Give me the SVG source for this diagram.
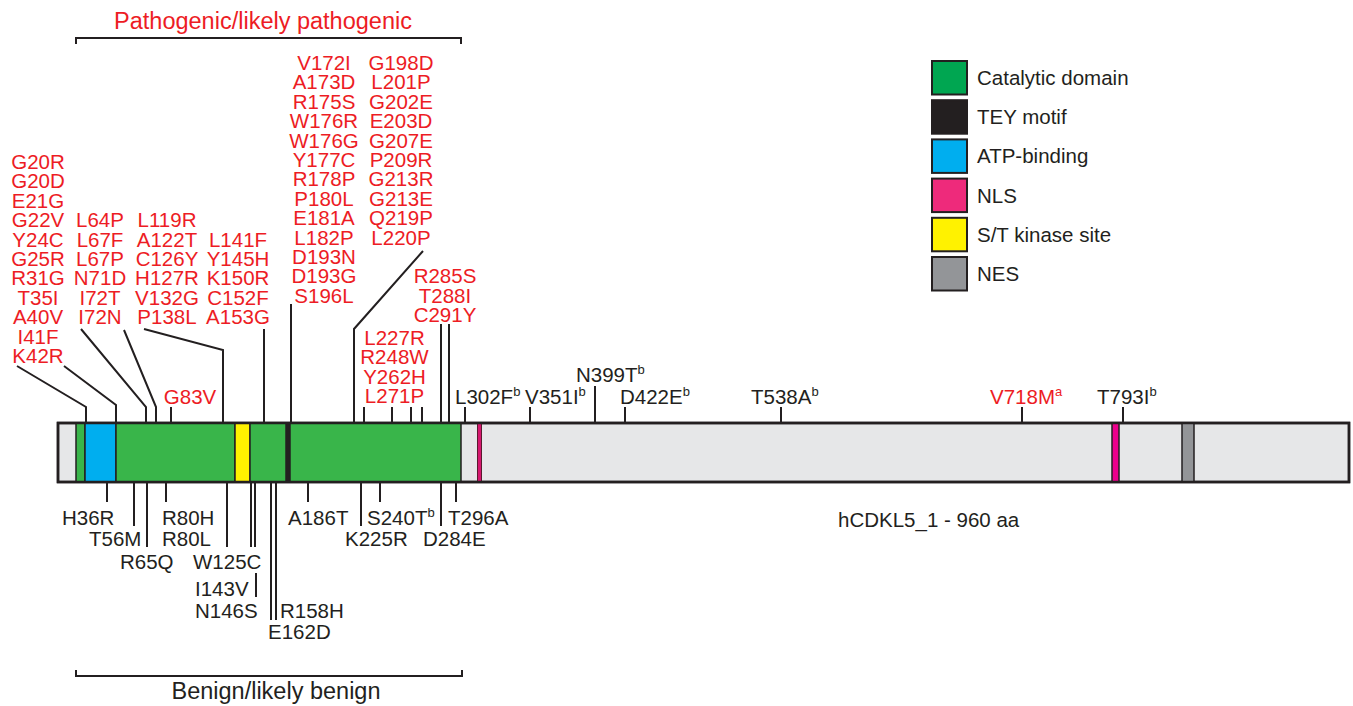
<svg xmlns="http://www.w3.org/2000/svg" width="1353" height="706" viewBox="0 0 1353 706">
<style>
text{font-family:"Liberation Sans",Arial,sans-serif;font-size:20.5px}
.r{fill:#ed1c24}
.k{fill:#231f20}
.m{text-anchor:middle}
.h{font-size:23.5px}
.ln{stroke:#231f20;stroke-width:2;fill:none}
.seg{stroke:#231f20;stroke-width:1.5}
.lg{stroke:#231f20;stroke-width:2}
.sup{font-size:13px}
</style>
<rect width="1353" height="706" fill="#ffffff"/>

<g id="bracket-top">
<path class="ln" d="M76,44 V38 H461 V44"/>
<text class="r m h" x="263" y="29">Pathogenic/likely pathogenic</text>
</g>
<g id="bracket-bottom">
<path class="ln" d="M76,670 V676 H462 V670"/>
<text class="k m h" x="276" y="699">Benign/likely benign</text>
</g>

<g id="protein">
<rect x="58" y="423" width="1291" height="59" fill="#e6e7e8" stroke="#231f20" stroke-width="2.5"/>
<rect class="seg" x="76" y="423" width="9" height="59" fill="#39b54a"/>
<rect class="seg" x="85" y="423" width="31" height="59" fill="#00aeef"/>
<rect class="seg" x="116" y="423" width="119" height="59" fill="#39b54a"/>
<rect class="seg" x="235" y="423" width="15" height="59" fill="#fff200"/>
<rect class="seg" x="250" y="423" width="36" height="59" fill="#39b54a"/>
<rect x="286" y="423" width="4" height="59" fill="#231f20"/>
<rect class="seg" x="290" y="423" width="171" height="59" fill="#39b54a"/>
<rect x="477.5" y="423" width="4" height="59" fill="#d6186f" stroke="#5a1a30" stroke-width="1"/>
<rect class="seg" x="1112" y="423" width="7" height="59" fill="#ec008c"/>
<rect class="seg" x="1182" y="423" width="12" height="59" fill="#939598"/>
<rect x="58" y="423" width="1291" height="59" fill="none" stroke="#231f20" stroke-width="2.5"/>
<text class="k" x="838" y="527">hCDKL5_1 - 960 aa</text>
</g>

<g id="connectors">
<polyline class="ln" points="17,366 86,407 86,423"/>
<polyline class="ln" points="64,366 116,405 116,423"/>
<polyline class="ln" points="81,329 146,407 146,423"/>
<polyline class="ln" points="124,330 156,407 156,423"/>
<line class="ln" x1="171" y1="407" x2="171" y2="423"/>
<polyline class="ln" points="144,329 223,350 223,423"/>
<line class="ln" x1="264" y1="329" x2="264" y2="423"/>
<line class="ln" x1="291" y1="304" x2="291" y2="423"/>
<polyline class="ln" points="423,251 354,329 354,423"/>
<line class="ln" x1="364" y1="407" x2="364" y2="423"/>
<line class="ln" x1="392" y1="407" x2="392" y2="423"/>
<line class="ln" x1="411" y1="407" x2="411" y2="423"/>
<line class="ln" x1="422" y1="407" x2="422" y2="423"/>
<line class="ln" x1="441" y1="324" x2="441" y2="423"/>
<line class="ln" x1="449" y1="324" x2="449" y2="423"/>
<line class="ln" x1="465" y1="407" x2="465" y2="423"/>
<line class="ln" x1="530" y1="407" x2="530" y2="423"/>
<line class="ln" x1="595" y1="386" x2="595" y2="423"/>
<line class="ln" x1="625" y1="407" x2="625" y2="423"/>
<line class="ln" x1="781" y1="407" x2="781" y2="423"/>
<line class="ln" x1="1022" y1="407" x2="1022" y2="423"/>
<line class="ln" x1="1123" y1="407" x2="1123" y2="423"/>

<line class="ln" x1="107" y1="482" x2="107" y2="502"/>
<line class="ln" x1="134" y1="482" x2="134" y2="526"/>
<line class="ln" x1="147" y1="482" x2="147" y2="547"/>
<line class="ln" x1="166" y1="482" x2="166" y2="502"/>
<line class="ln" x1="227" y1="482" x2="227" y2="547"/>
<line class="ln" x1="251" y1="482" x2="251" y2="547"/>
<line class="ln" x1="255" y1="482" x2="255" y2="547"/>
<line class="ln" x1="256" y1="573" x2="256" y2="597"/>
<line class="ln" x1="271" y1="482" x2="271" y2="620"/>
<line class="ln" x1="276" y1="482" x2="276" y2="620"/>
<line class="ln" x1="308" y1="482" x2="308" y2="502"/>
<line class="ln" x1="361" y1="482" x2="361" y2="526"/>
<line class="ln" x1="380" y1="482" x2="380" y2="502"/>
<line class="ln" x1="441" y1="482" x2="441" y2="526"/>
<line class="ln" x1="456" y1="482" x2="456" y2="502"/>
</g>

<g id="pathogenic-labels">
<g id="col1">
<text class="r m" x="38" y="169"><tspan x="38">G20R</tspan><tspan x="38" dy="19.4">G20D</tspan><tspan x="38" dy="19.4">E21G</tspan><tspan x="38" dy="19.4">G22V</tspan><tspan x="38" dy="19.4">Y24C</tspan><tspan x="38" dy="19.4">G25R</tspan><tspan x="38" dy="19.4">R31G</tspan><tspan x="38" dy="19.4">T35I</tspan><tspan x="38" dy="19.4">A40V</tspan><tspan x="38" dy="19.4">I41F</tspan><tspan x="38" dy="19.4">K42R</tspan></text>
</g>
<g id="col2">
<text class="r m" x="100" y="227.2"><tspan x="100">L64P</tspan><tspan x="100" dy="19.4">L67F</tspan><tspan x="100" dy="19.4">L67P</tspan><tspan x="100" dy="19.4">N71D</tspan><tspan x="100" dy="19.4">I72T</tspan><tspan x="100" dy="19.4">I72N</tspan></text>
</g>
<g id="col3">
<text class="r m" x="167" y="227.2"><tspan x="167">L119R</tspan><tspan x="167" dy="19.4">A122T</tspan><tspan x="167" dy="19.4">C126Y</tspan><tspan x="167" dy="19.4">H127R</tspan><tspan x="167" dy="19.4">V132G</tspan><tspan x="167" dy="19.4">P138L</tspan></text>
</g>
<g id="col4">
<text class="r m" x="238" y="246.6"><tspan x="238">L141F</tspan><tspan x="238" dy="19.4">Y145H</tspan><tspan x="238" dy="19.4">K150R</tspan><tspan x="238" dy="19.4">C152F</tspan><tspan x="238" dy="19.4">A153G</tspan></text>
</g>
<g id="g83v">
<text class="r m" x="190" y="404">G83V</text>
</g>
<g id="col5">
<text class="r m" x="324" y="70"><tspan x="324">V172I</tspan><tspan x="324" dy="19.4">A173D</tspan><tspan x="324" dy="19.4">R175S</tspan><tspan x="324" dy="19.4">W176R</tspan><tspan x="324" dy="19.4">W176G</tspan><tspan x="324" dy="19.4">Y177C</tspan><tspan x="324" dy="19.4">R178P</tspan><tspan x="324" dy="19.4">P180L</tspan><tspan x="324" dy="19.4">E181A</tspan><tspan x="324" dy="19.4">L182P</tspan><tspan x="324" dy="19.4">D193N</tspan><tspan x="324" dy="19.4">D193G</tspan><tspan x="324" dy="19.4">S196L</tspan></text>
</g>
<g id="col6">
<text class="r m" x="401" y="70"><tspan x="401">G198D</tspan><tspan x="401" dy="19.4">L201P</tspan><tspan x="401" dy="19.4">G202E</tspan><tspan x="401" dy="19.4">E203D</tspan><tspan x="401" dy="19.4">G207E</tspan><tspan x="401" dy="19.4">P209R</tspan><tspan x="401" dy="19.4">G213R</tspan><tspan x="401" dy="19.4">G213E</tspan><tspan x="401" dy="19.4">Q219P</tspan><tspan x="401" dy="19.4">L220P</tspan></text>
</g>
<g id="col7">
<text class="r m" x="445" y="283.4"><tspan x="445">R285S</tspan><tspan x="445" dy="19.4">T288I</tspan><tspan x="445" dy="19.4">C291Y</tspan></text>
</g>
<g id="col8">
<text class="r m" x="394.5" y="345"><tspan x="394.5">L227R</tspan><tspan x="394.5" dy="19.4">R248W</tspan><tspan x="394.5" dy="19.4">Y262H</tspan><tspan x="394.5" dy="19.4">L271P</tspan></text>
</g>
</g>

<g id="vus-labels">
<text class="k" x="455" y="404">L302F<tspan class="sup" dy="-8">b</tspan></text>
<text class="k" x="525" y="404">V351I<tspan class="sup" dy="-8">b</tspan></text>
<text class="k" x="576" y="382">N399T<tspan class="sup" dy="-8">b</tspan></text>
<text class="k" x="620" y="404">D422E<tspan class="sup" dy="-8">b</tspan></text>
<text class="k" x="751" y="404">T538A<tspan class="sup" dy="-8">b</tspan></text>
<text class="r" x="990" y="404">V718M<tspan class="sup" dy="-8">a</tspan></text>
<text class="k" x="1097" y="404">T793I<tspan class="sup" dy="-8">b</tspan></text>
</g>

<g id="benign-labels">
<text class="k" x="62" y="525">H36R</text>
<text class="k" x="162" y="525"><tspan x="162">R80H</tspan><tspan x="162" dy="21">R80L</tspan></text>
<text class="k" x="288" y="525">A186T</text>
<text class="k" x="367" y="525">S240T<tspan class="sup" dy="-8">b</tspan></text>
<text class="k" x="448" y="525">T296A</text>
<text class="k" x="89" y="546">T56M</text>
<text class="k" x="345" y="546">K225R</text>
<text class="k" x="423" y="546">D284E</text>
<text class="k" x="120" y="569">R65Q</text>
<text class="k" x="193" y="569">W125C</text>
<text class="k" x="195" y="596"><tspan x="195">I143V</tspan><tspan x="195" dy="22">N146S</tspan></text>
<text class="k" x="280" y="618">R158H</text>
<text class="k" x="268" y="639">E162D</text>
</g>

<g id="legend">
<g id="legend-catalytic"><rect class="lg" x="932" y="61" width="35" height="33.5" fill="#00a651"/><text class="k" x="977" y="85">Catalytic domain</text></g>
<g id="legend-tey"><rect class="lg" x="932" y="100.2" width="35" height="33.5" fill="#231f20"/><text class="k" x="977" y="124.2">TEY motif</text></g>
<g id="legend-atp"><rect class="lg" x="932" y="139.4" width="35" height="33.5" fill="#00aeef"/><text class="k" x="977" y="163.4">ATP-binding</text></g>
<g id="legend-nls"><rect class="lg" x="932" y="178.6" width="35" height="33.5" fill="#ee2a7b"/><text class="k" x="977" y="202.6">NLS</text></g>
<g id="legend-st"><rect class="lg" x="932" y="217.8" width="35" height="33.5" fill="#fff200"/><text class="k" x="977" y="241.8">S/T kinase site</text></g>
<g id="legend-nes"><rect class="lg" x="932" y="257" width="35" height="33.5" fill="#939598"/><text class="k" x="977" y="281">NES</text></g>
</g>
</svg>
